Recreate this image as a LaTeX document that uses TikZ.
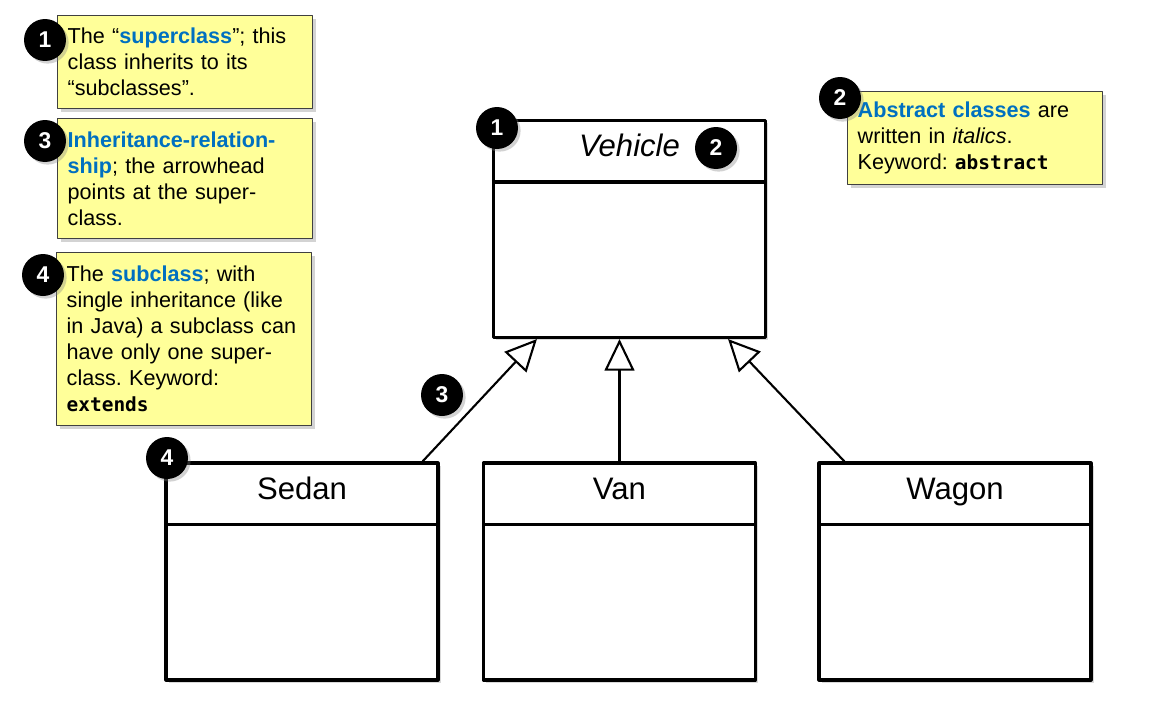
\documentclass[tikz,border=0pt]{standalone}
\usepackage{fontspec}
\setmainfont{Liberation Sans}
\setmonofont{DejaVu Sans Mono}[Scale=0.9]
\usetikzlibrary{arrows.meta,shadows,positioning}
\definecolor{notefill}{RGB}{255,255,153}
\definecolor{keyblue}{RGB}{0,112,192}
\newcommand{\key}[1]{\textcolor{keyblue}{\textbf{#1}}}
\frenchspacing
\begin{document}
\begin{tikzpicture}[x=0.02cm,y=-0.02cm,line join=round,line cap=round]
	\tikzset{
		note/.style={draw=black!75,line width=0.8pt,fill=notefill,anchor=north west,
			inner xsep=0.2cm,inner ysep=0pt,text width=4.7cm,align=left,
			font=\fontsize{12.3}{14.8}\selectfont,
			drop shadow={shadow xshift=2pt,shadow yshift=-2pt,opacity=0.35}},
		badge/.style={circle,fill=black,text=white,minimum size=0.84cm,inner sep=0pt,
			font=\bfseries\fontsize{13}{13}\selectfont,
			drop shadow={shadow xshift=1.5pt,shadow yshift=-1.5pt,opacity=0.35}},
		classbox/.style={draw,line width=1.8pt,fill=white,minimum width=5.44cm,minimum height=4.34cm,
			drop shadow={shadow xshift=1.5pt,shadow yshift=-1.5pt,opacity=0.3}},
		classline/.style={line width=1.8pt,line cap=butt},
		classname/.style={anchor=base,font=\fontsize{17.7}{20}\selectfont},
		inherit/.style={line width=1.2pt,-{Triangle[length=18pt,width=17pt,fill=white]}}
	}
	\useasboundingbox (0,0) rectangle (1150,707);
	% notes
	\node[note,minimum height=1.86cm] (supernote) at (57,15)
		{The ``\key{superclass}''; this\\class inherits to its\\``subclasses''.};
	\node[note,minimum height=2.4cm] (inhernote) at (57,118)
		{\key{Inheritance-relation-}\\\key{ship}; the arrowhead\\points at the super-\\class.};
	\node[note,minimum height=3.46cm] (subnote) at (56,252)
		{The \key{subclass}; with\\single inheritance (like\\in Java) a subclass can\\have only one super-\\class. Keyword:\\\texttt{\textbf{extends}}};
	\node[note,minimum height=1.86cm] (abstrnote) at (847,91)
		{\key{Abstract classes} are\\written in \textit{italics}.\\Keyword: \texttt{\textbf{abstract}}};
	% classes
	\node[classbox] (vehicle) at (629.5,229) {};
	\draw[classline] ([yshift=-1.26cm]vehicle.north west) -- ([yshift=-1.26cm]vehicle.north east);
	\node[classname] (vehicle-name) at ([yshift=-0.76cm]vehicle.north) {\textit{Vehicle}};
	\foreach \cls/\x/\txt in {sedan/302/Sedan,van/619.5/Van,wagon/955/Wagon}{
		\node[classbox] (\cls) at (\x,571.5) {};
		\draw[classline] ([yshift=-1.26cm]\cls.north west) -- ([yshift=-1.26cm]\cls.north east);
		\node[classname] (\cls-name) at ([yshift=-0.76cm]\cls.north) {\txt};
	}
	\draw[inherit] ([xshift=-0.34cm]sedan.north east) -- ([xshift=0.9cm]vehicle.south west);
	\draw[inherit] (van.north) -- (van.north |- vehicle.south);
	\draw[inherit] ([xshift=0.54cm]wagon.north west) -- ([xshift=-0.78cm]vehicle.south east);
	% badges
	\foreach \nm/\x/\y/\n in {superbadge/45/40/1,inherbadge/45/141/3,subbadge/43/275/4,abstrbadge/840/98/2,
		vehiclebadge/497/128/1,italicbadge/716/148/2,arrowbadge/442/395/3,sedanbadge/167/458/4}
	\node[badge] (\nm) at (\x,\y) {\n};
\end{tikzpicture}
\end{document}
